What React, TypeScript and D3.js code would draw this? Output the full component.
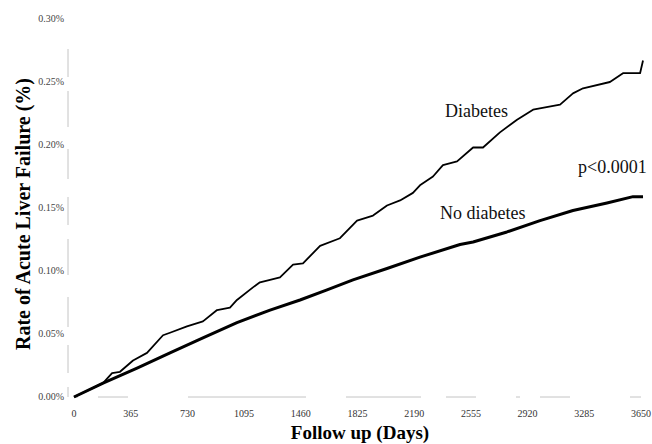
import React, { useEffect, useRef } from 'react';
import * as d3 from 'd3';

// Follow-up days and cumulative rate (%)
const diabetesDays = [0, 187, 245, 296, 380, 470, 573, 618, 727, 830, 921, 1004, 1049, 1152, 1197, 1262, 1326, 1410, 1474, 1584, 1712, 1822, 1925, 2015, 2099, 2182, 2227, 2311, 2375, 2466, 2569, 2633, 2742, 2852, 2955, 3129, 3212, 3277, 3450, 3534, 3644, 3663];
const diabetesRate = [0, 0.011, 0.019, 0.020, 0.029, 0.035, 0.049, 0.051, 0.056, 0.060, 0.069, 0.071, 0.077, 0.087, 0.091, 0.093, 0.095, 0.105, 0.106, 0.120, 0.126, 0.140, 0.144, 0.152, 0.156, 0.162, 0.168, 0.175, 0.184, 0.187, 0.198, 0.198, 0.210, 0.220, 0.228, 0.232, 0.241, 0.245, 0.250, 0.257, 0.257, 0.267];

const noDiabetesDays = [0, 187, 406, 618, 830, 1049, 1262, 1455, 1629, 1796, 2015, 2227, 2485, 2569, 2787, 3000, 3212, 3431, 3599, 3663];
const noDiabetesRate = [0, 0.011, 0.023, 0.035, 0.047, 0.059, 0.069, 0.077, 0.085, 0.093, 0.102, 0.111, 0.121, 0.123, 0.131, 0.140, 0.148, 0.154, 0.159, 0.159];

const xTicks = [0, 365, 730, 1095, 1460, 1825, 2190, 2555, 2920, 3285, 3650];
const yTicks = [0, 0.05, 0.1, 0.15, 0.2, 0.25, 0.3];

const W = 652;
const H = 444;
const FONT = '"Liberation Serif", "DejaVu Serif", serif';

const App = () => {
  const svgRef = useRef<SVGSVGElement>(null);

  useEffect(() => {
    const svg = d3.select(svgRef.current);
    svg.selectAll('*').remove();

    const x = d3.scaleLinear().domain([0, 3650]).range([74, 641]);
    const y = d3.scaleLinear().domain([0, 0.3]).range([397, 19]);

    // faint, scanned-looking axes
    svg.append('line')
      .attr('x1', 68).attr('x2', 68)
      .attr('y1', y(0.3) + 30).attr('y2', y(0))
      .attr('stroke', '#c4c4c4').attr('stroke-width', 1)
      .attr('stroke-dasharray', '28,14,36,22,30,18');
    svg.append('line')
      .attr('x1', x(0)).attr('x2', x(3650))
      .attr('y1', y(0)).attr('y2', y(0))
      .attr('stroke', '#c4c4c4').attr('stroke-width', 1)
      .attr('stroke-dasharray', '4,20,30,60,118,40,75,25,30,40');

    // y tick labels
    svg.selectAll('.ytick')
      .data(yTicks)
      .enter().append('text')
      .attr('x', 64)
      .attr('y', d => y(d) + 3)
      .attr('text-anchor', 'end')
      .attr('font-family', FONT)
      .attr('font-size', 10)
      .attr('fill', '#444')
      .text(d => d3.format('.2f')(d) + '%');

    // x tick labels
    svg.selectAll('.xtick')
      .data(xTicks)
      .enter().append('text')
      .attr('x', d => x(d))
      .attr('y', 417)
      .attr('text-anchor', 'middle')
      .attr('font-family', FONT)
      .attr('font-size', 10)
      .attr('fill', '#333')
      .text(d => d);

    // axis titles
    svg.append('text')
      .attr('transform', 'translate(30,214) rotate(-90)')
      .attr('text-anchor', 'middle')
      .attr('font-family', FONT)
      .attr('font-weight', 'bold')
      .attr('font-size', 20)
      .text('Rate of Acute Liver Failure (%)');

    svg.append('text')
      .attr('x', 360)
      .attr('y', 439)
      .attr('text-anchor', 'middle')
      .attr('font-family', FONT)
      .attr('font-weight', 'bold')
      .attr('font-size', 19)
      .text('Follow up (Days)');

    const line = d3.line<[number, number]>()
      .x(d => x(d[0]))
      .y(d => y(d[1]));

    const noDiab = noDiabetesDays.map((d, i) => [d, noDiabetesRate[i]] as [number, number]);
    const diab = diabetesDays.map((d, i) => [d, diabetesRate[i]] as [number, number]);

    svg.append('path')
      .datum(noDiab)
      .attr('d', line)
      .attr('fill', 'none')
      .attr('stroke', '#000')
      .attr('stroke-width', 3)
      .attr('stroke-linejoin', 'round');

    svg.append('path')
      .datum(diab)
      .attr('d', line)
      .attr('fill', 'none')
      .attr('stroke', '#000')
      .attr('stroke-width', 1.8)
      .attr('stroke-linejoin', 'round');

    // annotations
    const notes = [
      { label: 'Diabetes', x: 445, y: 117 },
      { label: 'p<0.0001', x: 578, y: 173 },
      { label: 'No diabetes', x: 440, y: 219 },
    ];
    svg.selectAll('.note')
      .data(notes)
      .enter().append('text')
      .attr('x', d => d.x)
      .attr('y', d => d.y)
      .attr('font-family', FONT)
      .attr('font-size', 18)
      .attr('fill', '#111')
      .text(d => d.label);
  }, []);

  return (
    <svg ref={svgRef} width={W} height={H} style={{ position: 'absolute', left: 0, top: 0, background: '#fff' }}></svg>
  );
};

export default App;
